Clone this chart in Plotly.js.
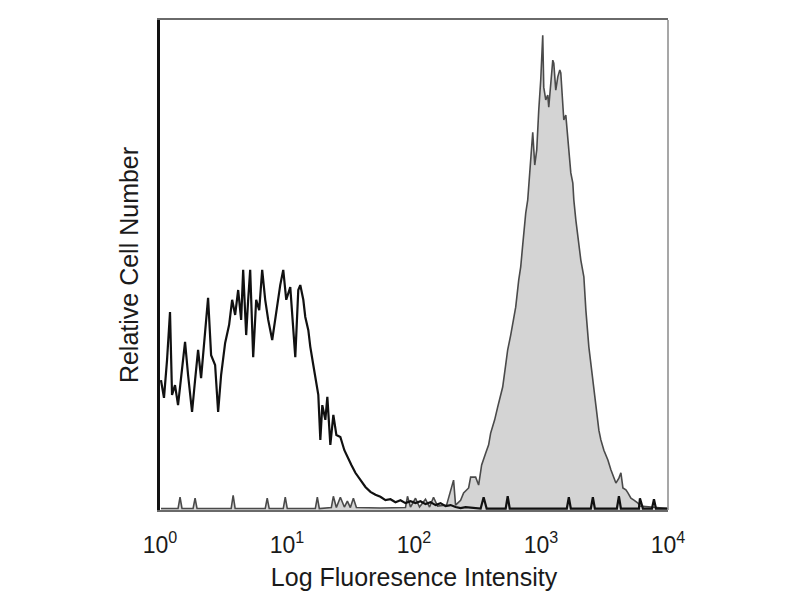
<!DOCTYPE html>
<html>
<head>
<meta charset="utf-8">
<script src="https://cdn.plot.ly/plotly-3.0.1.min.js"></script>
<style>html,body{margin:0;padding:0;background:#fff;}#chart{width:800px;height:600px;}</style>
</head>
<body>
<div id="chart"></div>
<script>
// Isotype control (open black histogram)
var controlX = [1.018,1.075,1.136,1.199,1.244,1.313,1.387,1.491,1.575,1.663,1.788,1.889,1.995,2.106,2.224,2.391,2.526,2.716,2.869,3.029,3.258,3.502,3.699,3.906,4.125,4.355,4.517,4.770,4.946,5.130,5.417,5.720,6.040,6.378,6.736,7.113,7.648,8.226,8.845,9.342,9.865,10.61,11.20,11.62,12.27,12.72,13.44,13.93,14.72,15.26,16.11,16.71,17.64,18.30,18.97,20.04,20.78,21.94,23.17,24.47,26.31,28.29,29.88,32.13,34.55,37.84,41.44,45.39,49.71,54.41,59.60,65.27,71.45,78.26,85.68,93.84,102.8,112.5,123.2,134.9,147.8,161.9,177.2,194.1,212.5,232.8,254.9,334.8,353.4,373.3,527.2,546.7,567.0,1597,1656,1717,2469,2560,2655,3959,4106,4258,5905,6013,6350,7477,7752,8039,9820];
var controlY = [26.5,22.9,30.6,40.4,23.5,25.5,21.4,28.6,34.3,27.6,20.0,26.5,32.7,26.9,34.7,43.3,31.6,29.6,20.0,27.6,34.1,37.8,42.9,39.8,44.9,38.8,49.0,35.7,42.9,49.0,31.2,42.9,40.8,49.0,42.9,38.8,34.7,40.8,45.9,49.0,42.9,45.5,36.7,31.2,44.9,45.9,42.9,39.4,36.7,33.3,29.6,27.1,23.5,14.3,21.4,18.4,23.1,13.3,19.4,15.3,14.9,12.2,10.8,9.2,7.6,6.1,4.7,3.7,3.1,2.7,2.0,2.2,1.6,2.0,1.4,1.8,1.4,1.8,1.2,1.6,1.0,1.4,0.8,1.0,0.6,0.4,0.6,0.3,2.6,0.3,0.3,2.8,0.3,0.3,2.6,0.3,0.3,2.6,0.3,0.3,2.8,0.3,0.3,2.4,0.3,0.3,2.2,0.3,0.3];

// Stained sample (grey filled histogram)
var stainedX = [1.018,1.387,1.438,1.491,1.821,1.889,1.958,3.633,3.767,3.906,6.736,6.985,7.244,9.342,9.687,10.05,16.71,17.33,17.97,22.34,23.17,24.47,26.31,28.29,29.88,31.55,33.32,35.19,54.41,85.68,88.85,93.84,102.8,110.5,123.2,132.6,142.5,153.3,180.5,194.1,204.9,212.5,232.8,245.8,269.2,279.2,305.7,322.8,340.9,366.5,387.0,401.4,431.6,455.8,481.3,499.2,527.2,546.7,577.3,609.5,632.1,667.5,692.2,717.9,731.1,758.1,786.2,815.2,830.2,860.9,892.7,925.7,960.0,995.4,1032,1051,1090,1130,1151,1194,1238,1261,1307,1356,1406,1432,1485,1512,1568,1626,1686,1717,1781,1813,1880,1986,2059,2175,2256,2381,2469,2608,2704,2855,2961,3127,3363,3551,3750,3888,4106,4258,4416,4663,4835,5106,5392,5798,6013,10000];
var stainedY = [0.3,0.3,2.6,0.3,0.3,2.4,0.3,0.3,3.0,0.3,0.3,2.4,0.3,0.3,2.6,0.3,0.3,2.6,0.3,0.5,2.8,0.5,2.6,0.6,1.8,0.5,2.4,0.5,0.4,0.5,2.8,0.6,2.4,0.6,2.2,0.6,2.6,0.8,1.0,3.7,6.1,1.0,2.0,3.5,4.5,6.7,6.7,5.1,9.2,11.6,13.3,15.7,18.4,21.0,23.5,25.1,29.6,32.7,35.7,39.2,41.4,46.9,49.6,54.1,56.5,60.6,63.3,68.4,71.4,77.1,70.4,73.5,81.6,87.8,96.9,86.3,83.7,84.7,82.2,87.8,91.8,91.2,85.7,88.4,89.8,89.2,83.7,79.6,80.6,76.1,70.4,68.8,66.7,63.3,59.2,54.5,51.0,47.6,40.8,33.3,29.6,25.1,21.4,16.3,14.3,12.2,10.2,8.2,6.5,5.5,6.5,7.6,4.5,4.1,3.5,2.4,2.0,1.4,0.8,0.3];

var tickVals = [1, 10, 100, 1000, 10000];
var tickText = ['10<sup>0</sup>', '10<sup>1</sup>', '10<sup>2</sup>', '10<sup>3</sup>', '10<sup>4</sup>'];

var traces = [
  {x: stainedX, y: stainedY, type: 'scatter', mode: 'lines', fill: 'tozeroy',
   fillcolor: '#d4d4d4', line: {color: '#4a4a4a', width: 1.6}, hoverinfo: 'skip'},
  {x: controlX, y: controlY, type: 'scatter', mode: 'lines',
   line: {color: '#111111', width: 2.2}, hoverinfo: 'skip'}
];

var layout = {
  width: 800, height: 600,
  margin: {l: 160, r: 132, t: 20, b: 90},
  paper_bgcolor: '#ffffff', plot_bgcolor: '#ffffff',
  showlegend: false,
  font: {family: 'Liberation Sans, Arial, sans-serif', color: '#1a1a1a'},
  xaxis: {
    type: 'log', range: [0, 4],
    tickmode: 'array', tickvals: tickVals, ticktext: tickText,
    ticks: '', ticklabelstandoff: 13,
    tickfont: {size: 23, color: '#1a1a1a'},
    showgrid: false, zeroline: false,
    showline: true, linecolor: '#6a6a6a', linewidth: 2, mirror: true,
    title: {text: 'Log Fluoresence Intensity', font: {size: 25, color: '#1a1a1a'}, standoff: 12}
  },
  yaxis: {
    range: [0, 100],
    showticklabels: false, ticks: '',
    showgrid: false, zeroline: false,
    showline: true, linecolor: '#111111', linewidth: 3,
    title: {text: 'Relative Cell Number', font: {size: 25, color: '#1a1a1a'}, standoff: 12}
  },
  shapes: [
    {type: 'line', xref: 'paper', yref: 'paper', x0: 1, x1: 1, y0: 0, y1: 1,
     line: {color: '#8a8a8a', width: 1.5}}
  ]
};

Plotly.newPlot('chart', traces, layout, {displayModeBar: false, staticPlot: true});
</script>
</body>
</html>
